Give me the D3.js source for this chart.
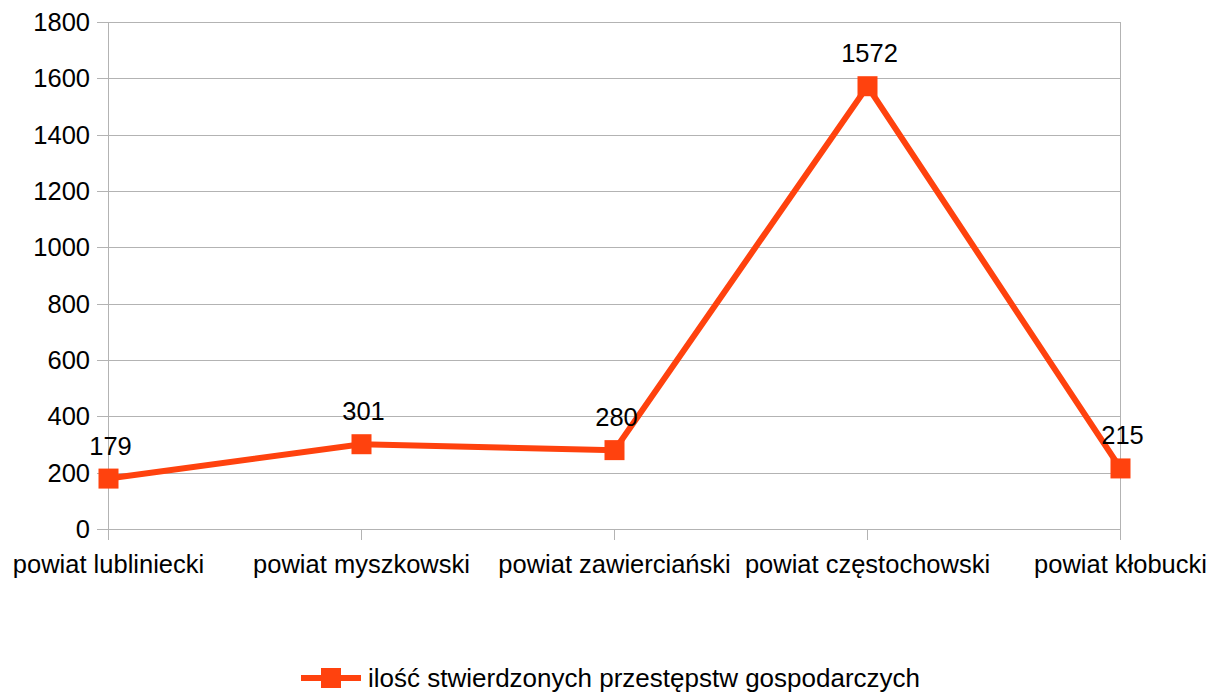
<!DOCTYPE html>
<html><head><meta charset="utf-8">
<script src="https://cdn.jsdelivr.net/npm/d3@7"></script>
<style>body{margin:0;background:#fff}text{font-family:"Liberation Sans",Arial,sans-serif;fill:#000}</style>
</head><body><svg id="c" width="1221" height="693"></svg>
<script>
const categories = ["powiat lubliniecki","powiat myszkowski","powiat zawierciański","powiat częstochowski","powiat kłobucki"];
const values = [179, 301, 280, 1572, 215];
const yTicks = [0,200,400,600,800,1000,1200,1400,1600,1800];
const seriesName = "ilość stwierdzonych przestępstw gospodarczych";

const svg = d3.select("#c");
const color = "#ff420e", grid = "#b3b3b3";
const fs = "25.5px";
const x = d3.scalePoint().domain(categories).range([108.5, 1120.5]);
const y = d3.scaleLinear().domain([0,1800]).range([529, 22]);

svg.append("g").selectAll("line").data(yTicks).join("line")
  .attr("x1", 97).attr("x2", 1120.5)
  .attr("y1", d=>Math.round(y(d))+0.5).attr("y2", d=>Math.round(y(d))+0.5)
  .attr("stroke", grid).attr("stroke-width",1);
svg.append("g").selectAll("line").data(categories).join("line")
  .attr("x1", d=>x(d)).attr("x2", d=>x(d))
  .attr("y1", (d,i)=> (i===0 || i===categories.length-1) ? 22 : 529).attr("y2", 540)
  .attr("stroke", grid).attr("stroke-width",1);
svg.append("g").selectAll("text").data(yTicks).join("text")
  .attr("x", 90).attr("y", d=>y(d)+9).attr("text-anchor","end")
  .style("font-size",fs).text(d=>d);
svg.append("g").selectAll("text").data(categories).join("text")
  .attr("x", d=>x(d)).attr("y", 573).attr("text-anchor","middle")
  .style("font-size",fs).text(d=>d);
svg.append("path").datum(values)
  .attr("d", d3.line().x((d,i)=>x(categories[i])).y(d=>y(d)))
  .attr("fill","none").attr("stroke",color).attr("stroke-width",6).attr("stroke-linejoin","miter");
svg.append("g").selectAll("rect").data(values).join("rect")
  .attr("x",(d,i)=>x(categories[i])-10).attr("y",d=>y(d)-10)
  .attr("width",20).attr("height",20).attr("fill",color);
svg.append("g").selectAll("text").data(values).join("text")
  .attr("x",(d,i)=>x(categories[i])+2).attr("y",d=>y(d)-24).attr("text-anchor","middle")
  .style("font-size",fs).text(d=>d);
const lg = svg.append("g");
lg.append("line").attr("x1",301).attr("x2",361).attr("y1",678).attr("y2",678).attr("stroke",color).attr("stroke-width",6);
lg.append("rect").attr("x",321).attr("y",668).attr("width",20).attr("height",20).attr("fill",color);
lg.append("text").attr("x",368).attr("y",687).style("font-size","26px").text(seriesName);
</script></body></html>
